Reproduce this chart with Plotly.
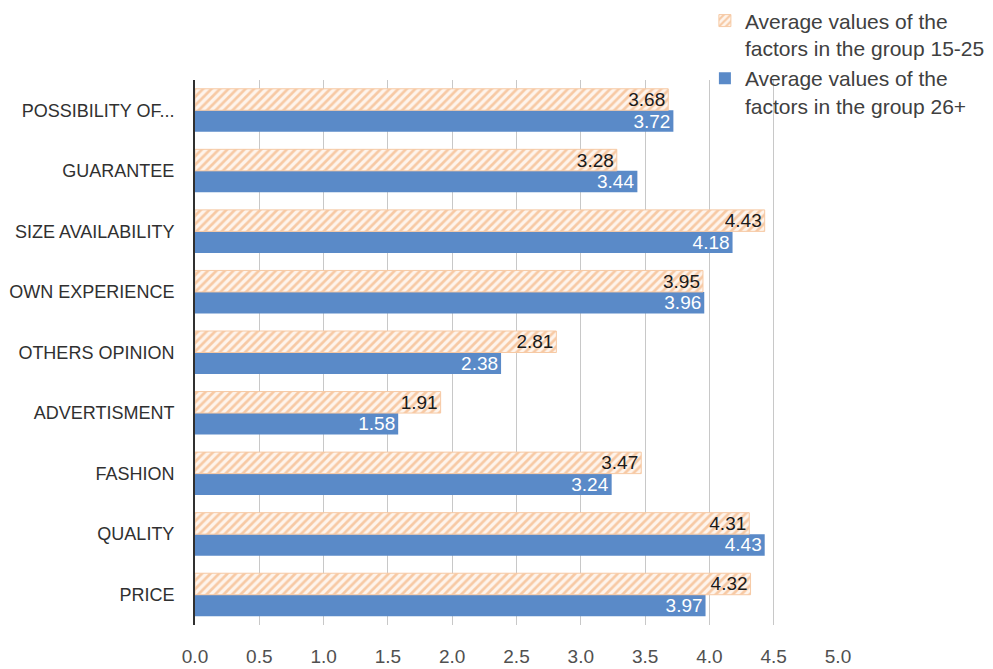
import plotly.graph_objects as go

# Factors, listed bottom-to-top as they appear on the axis
categories = [
    "PRICE", "QUALITY", "FASHION", "ADVERTISMENT", "OTHERS OPINION",
    "OWN EXPERIENCE", "SIZE AVAILABILITY", "GUARANTEE", "POSSIBILITY OF...",
]
group_15_25 = [4.32, 4.31, 3.47, 1.91, 2.81, 3.95, 4.43, 3.28, 3.68]
group_26_plus = [3.97, 4.43, 3.24, 1.58, 2.38, 3.96, 4.18, 3.44, 3.72]
x_ticks = [0.0, 0.5, 1.0, 1.5, 2.0, 2.5, 3.0, 3.5, 4.0, 4.5, 5.0]

FONT = "Liberation Sans Narrow, Arial Narrow, sans-serif"
BLUE = "#5A8AC8"
ORANGE = "#EF9D5C"

fig = go.Figure()

fig.add_trace(go.Bar(
    y=categories, x=group_26_plus, orientation="h",
    name="Average values of the<br>factors in the group 26+",
    legendgroup="b",
    marker=dict(color=BLUE, line=dict(width=0)),
    texttemplate="%{x:.2f}", textposition="inside", insidetextanchor="end",
    constraintext="none",
    insidetextfont=dict(color="white", size=19, family=FONT),
))

fig.add_trace(go.Bar(
    y=categories, x=group_15_25, orientation="h",
    name="Average values of the<br>factors in the group 15-25",
    legendgroup="a",
    marker=dict(
        color="#FEF4EC",
        line=dict(width=1, color="#F6C9A4"),
        pattern=dict(shape="/", fgcolor=ORANGE, bgcolor="#FEF4EC",
                     size=6, solidity=0.45, fillmode="overlay"),
    ),
    texttemplate="%{x:.2f}", textposition="inside", insidetextanchor="end",
    constraintext="none",
    insidetextfont=dict(color="#1a1a1a", size=19, family=FONT),
))

fig.update_layout(
    width=993, height=669,
    margin=dict(l=195, r=155, t=80, b=44, autoexpand=False),
    paper_bgcolor="white", plot_bgcolor="white",
    barmode="group", bargap=0.29, bargroupgap=0.0,
    font=dict(family=FONT, color="#404040"),
    showlegend=True,
    legend=dict(
        x=0.793, y=1.146, xanchor="left", yanchor="top",
        traceorder="reversed", valign="top",
        font=dict(size=21, family=FONT, color="#404040"),
        bgcolor="rgba(0,0,0,0)", itemwidth=30, tracegroupgap=14,
    ),
    xaxis=dict(
        range=[0, 5.0], tickvals=x_ticks, tickformat=".1f",
        showgrid=True, gridcolor="#C8C8C8", gridwidth=1,
        zeroline=False, showline=False, ticks="",
        ticklabelstandoff=18, automargin=False,
        tickfont=dict(size=19, family=FONT, color="#505050"),
    ),
    yaxis=dict(
        categoryorder="array", categoryarray=categories,
        showline=True, linecolor="#303030", linewidth=2,
        showgrid=False, ticks="", ticklabelstandoff=15, automargin=False,
        tickfont=dict(size=18, family=FONT, color="#303030"),
    ),
)

fig.write_html("out.html")
